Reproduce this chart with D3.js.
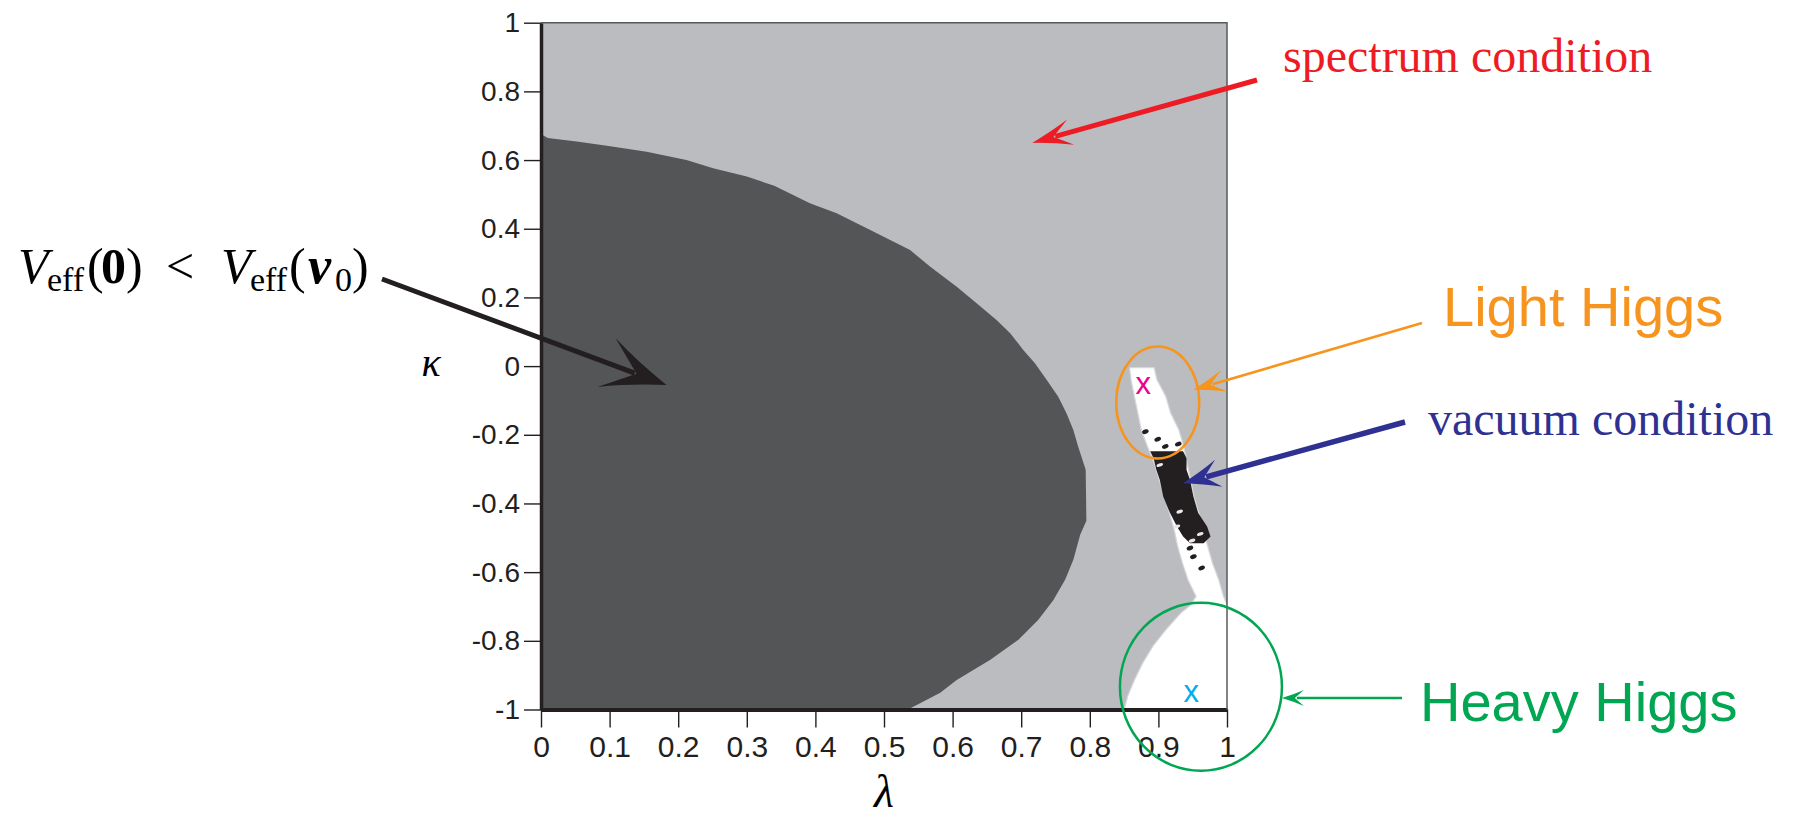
<!DOCTYPE html>
<html>
<head>
<meta charset="utf-8">
<script src="https://cdn.jsdelivr.net/npm/d3@7"></script>
<style>
  html, body { margin: 0; padding: 0; background: #ffffff; }
  svg { display: block; }
</style>
</head>
<body>
<svg id="chart" width="1798" height="822"></svg>
<script>
// ---- axis ticks ----
const lambdaTicks = [0, 0.1, 0.2, 0.3, 0.4, 0.5, 0.6, 0.7, 0.8, 0.9, 1];
const lambdaTickLabels = ["0", "0.1", "0.2", "0.3", "0.4", "0.5", "0.6", "0.7", "0.8", "0.9", "1"];
const kappaTicks = [1, 0.8, 0.6, 0.4, 0.2, 0, -0.2, -0.4, -0.6, -0.8, -1];
const kappaTickLabels = ["1", "0.8", "0.6", "0.4", "0.2", "0", "-0.2", "-0.4", "-0.6", "-0.8", "-1"];

// ---- region where V_eff(0) < V_eff(v0): right edge, [lambda, kappa], top to bottom ----
const darkBoundary = [
  [0.000, 0.675], [0.010, 0.664], [0.052, 0.654], [0.096, 0.642], [0.154, 0.624],
  [0.212, 0.600], [0.251, 0.576], [0.300, 0.552], [0.340, 0.525], [0.392, 0.474],
  [0.431, 0.445], [0.480, 0.396], [0.538, 0.338], [0.567, 0.290], [0.606, 0.231],
  [0.635, 0.183], [0.664, 0.134], [0.684, 0.096], [0.703, 0.047], [0.720, 0.008],
  [0.737, -0.040], [0.754, -0.089], [0.766, -0.137], [0.776, -0.186], [0.783, -0.234],
  [0.794, -0.302], [0.795, -0.450], [0.786, -0.491], [0.776, -0.564], [0.764, -0.622],
  [0.747, -0.681], [0.725, -0.739], [0.696, -0.797], [0.655, -0.855], [0.606, -0.914],
  [0.582, -0.951], [0.535, -1.000]
];

// ---- allowed region (both conditions satisfied): left and right edges, [lambda, kappa] ----
const allowedLeft = [
  [0.859, -0.006], [0.861, -0.040], [0.866, -0.089], [0.871, -0.137], [0.876, -0.186],
  [0.885, -0.234], [0.895, -0.283], [0.902, -0.331], [0.910, -0.380], [0.917, -0.428],
  [0.924, -0.477], [0.929, -0.525], [0.936, -0.574], [0.944, -0.622], [0.956, -0.671],
  [0.946, -0.700], [0.934, -0.719], [0.912, -0.768], [0.893, -0.816], [0.878, -0.865],
  [0.866, -0.914], [0.856, -0.962], [0.851, -1.000]
];
const allowedRight = [
  [0.893, -0.006], [0.897, -0.040], [0.910, -0.089], [0.917, -0.137], [0.929, -0.186],
  [0.936, -0.234], [0.941, -0.283], [0.946, -0.331], [0.951, -0.380], [0.958, -0.428],
  [0.964, -0.477], [0.971, -0.525], [0.978, -0.574], [0.987, -0.622], [0.994, -0.671],
  [1.000, -0.700], [1.000, -1.000]
];

// ---- vacuum condition violated: left and right edges, [lambda, kappa] ----
const vacuumLeft = [
  [0.888, -0.248], [0.893, -0.268], [0.897, -0.302], [0.902, -0.331], [0.907, -0.380],
  [0.917, -0.428], [0.927, -0.467], [0.936, -0.496], [0.946, -0.516]
];
const vacuumRight = [
  [0.936, -0.248], [0.941, -0.268], [0.941, -0.302], [0.946, -0.331], [0.951, -0.380],
  [0.958, -0.428], [0.971, -0.467], [0.976, -0.496], [0.966, -0.516]
];
// isolated failing points around the band, and passing points inside it
const vacuumSpecks = [
  [0.881, -0.191], [0.899, -0.213], [0.910, -0.234], [0.929, -0.227],
  [0.946, -0.530], [0.951, -0.555], [0.963, -0.588]
];
const allowedSpecks = [
  [0.902, -0.288], [0.931, -0.424], [0.927, -0.467], [0.961, -0.489], [0.949, -0.508]
];

// ---- benchmark points ----
const benchmarkNames = ["light", "heavy"];
const benchmarkLambda = [0.878, 0.948];
const benchmarkKappa = [-0.055, -0.952];
const benchmarkColors = ["#ec008c", "#00aeef"];

// ---- layout ----
const svg = d3.select("#chart");
const plot = { left: 541, right: 1227, top: 22.7, bottom: 709.5 };
const x = d3.scaleLinear().domain([0, 1]).range([plot.left, plot.right]);
const y = d3.scaleLinear().domain([-1, 1]).range([plot.bottom, plot.top]);

const colLight = "#bbbcc0", colDark = "#545557", colBlack = "#231f20";

svg.append("defs").append("clipPath").attr("id", "plotClip")
  .append("rect")
  .attr("x", plot.left).attr("y", plot.top)
  .attr("width", plot.right - plot.left).attr("height", plot.bottom - plot.top);

const area = svg.append("g").attr("clip-path", "url(#plotClip)");
const line = d3.line().x(d => x(d[0])).y(d => y(d[1]));

// spectrum condition fails everywhere else
area.append("rect")
  .attr("x", x(0)).attr("y", y(1))
  .attr("width", x(1) - x(0)).attr("height", y(-1) - y(1))
  .attr("fill", colLight);

// V_eff(0) < V_eff(v0)
area.append("path")
  .attr("d", line([...darkBoundary, [0, -1]]) + "Z")
  .attr("fill", colDark);

// allowed band, with its soft grey rim
const allowedPoly = [...allowedLeft, ...allowedRight.slice().reverse()];
area.append("path")
  .attr("d", line(allowedPoly) + "Z")
  .attr("fill", "#ffffff")
  .attr("stroke", "#d6d7d9")
  .attr("stroke-width", 2.5)
  .attr("stroke-linejoin", "round");
area.append("path")
  .attr("d", line(allowedPoly) + "Z")
  .attr("fill", "#ffffff");

// vacuum condition violated
area.append("path")
  .attr("d", line([...vacuumLeft, ...vacuumRight.slice().reverse()]) + "Z")
  .attr("fill", colBlack);
area.selectAll("ellipse.vs").data(vacuumSpecks).join("ellipse")
  .attr("class", "vs")
  .attr("cx", d => x(d[0])).attr("cy", d => y(d[1]))
  .attr("rx", 3.4).attr("ry", 2.2)
  .attr("transform", d => `rotate(-20,${x(d[0])},${y(d[1])})`)
  .attr("fill", colBlack);
area.selectAll("ellipse.as").data(allowedSpecks).join("ellipse")
  .attr("class", "as")
  .attr("cx", d => x(d[0])).attr("cy", d => y(d[1]))
  .attr("rx", 3.4).attr("ry", 1.7)
  .attr("transform", d => `rotate(-20,${x(d[0])},${y(d[1])})`)
  .attr("fill", "#e8e8e8");

// benchmark markers
svg.selectAll("text.bench").data(benchmarkNames).join("text")
  .attr("class", "bench")
  .attr("x", (d, i) => x(benchmarkLambda[i]))
  .attr("y", (d, i) => y(benchmarkKappa[i]) + 9)
  .attr("text-anchor", "middle")
  .attr("font-family", "Liberation Sans, Arial, sans-serif")
  .attr("font-size", 31)
  .attr("fill", (d, i) => benchmarkColors[i])
  .text("x");

// ---- axes ----
const yAxis = d3.axisLeft(y)
  .tickValues(kappaTicks)
  .tickFormat((d, i) => kappaTickLabels[i])
  .tickSize(17).tickSizeOuter(0).tickPadding(4);
const gy = svg.append("g").attr("transform", `translate(${plot.left},0)`).call(yAxis);
gy.select(".domain").attr("stroke", colBlack).attr("stroke-width", 3.5);
gy.selectAll(".tick line").attr("stroke", colBlack).attr("stroke-width", 1.4);
gy.selectAll(".tick text")
  .attr("font-family", "Liberation Sans, Arial, sans-serif")
  .attr("font-size", 28).attr("fill", "#231f20");

const xAxis = d3.axisBottom(x)
  .tickValues(lambdaTicks)
  .tickFormat((d, i) => lambdaTickLabels[i])
  .tickSize(18).tickSizeOuter(0).tickPadding(8);
const gx = svg.append("g").attr("transform", `translate(0,${plot.bottom})`).call(xAxis);
gx.select(".domain").attr("stroke", colBlack).attr("stroke-width", 4);
gx.selectAll(".tick line").attr("stroke", colBlack).attr("stroke-width", 1.4);
gx.selectAll(".tick text")
  .attr("font-family", "Liberation Sans, Arial, sans-serif")
  .attr("font-size", 30).attr("fill", "#231f20");

// thin frame on top and right
svg.append("path")
  .attr("d", `M${x(0)},${y(1)}H${x(1)}V${y(-1)}`)
  .attr("fill", "none").attr("stroke", "#58595b").attr("stroke-width", 1.5);

// axis titles
svg.append("text")
  .attr("x", 431).attr("y", 376)
  .attr("text-anchor", "middle")
  .attr("font-family", "Liberation Serif, Times New Roman, serif")
  .attr("font-style", "italic").attr("font-size", 40)
  .text("κ");
svg.append("text")
  .attr("x", 884).attr("y", 807)
  .attr("text-anchor", "middle")
  .attr("font-family", "Liberation Serif, Times New Roman, serif")
  .attr("font-style", "italic").attr("font-size", 46)
  .text("λ");

// ---- annotations ----
const ann = svg.append("g");

function arrow(tail, tip, color, width, L, W, N) {
  const dx = tip[0] - tail[0], dy = tip[1] - tail[1];
  const ang = Math.atan2(dy, dx) * 180 / Math.PI;
  const len = Math.hypot(dx, dy);
  const g = ann.append("g").attr("transform", `translate(${tip[0]},${tip[1]}) rotate(${ang})`);
  g.append("line")
    .attr("x1", -len).attr("y1", 0).attr("x2", -N - 2).attr("y2", 0)
    .attr("stroke", color).attr("stroke-width", width);
  g.append("path")
    .attr("d", `M0,0 Q${-L * 0.55},${-W * 0.45} ${-L},${-W} Q${-N - (L - N) * 0.3},${-W * 0.3} ${-N},0 Q${-N - (L - N) * 0.3},${W * 0.3} ${-L},${W} Q${-L * 0.55},${W * 0.45} 0,0Z`)
    .attr("fill", color);
}

// V_eff label
const serif = "Liberation Serif, Times New Roman, serif";
const veff = ann.append("text").attr("font-family", serif).attr("fill", "#000");
const pieces = [
  { t: "V", x: 18, dy: 0, size: 50, style: "italic" },
  { t: "eff", x: 47, dy: 8, size: 34 },
  { t: "(", x: 87, dy: 0, size: 50 },
  { t: "0", x: 101, dy: 0, size: 50, weight: "bold" },
  { t: ")", x: 126, dy: 0, size: 50 },
  { t: "<", x: 166, dy: 0, size: 50 },
  { t: "V", x: 221, dy: 0, size: 50, style: "italic" },
  { t: "eff", x: 250, dy: 8, size: 34 },
  { t: "(", x: 289, dy: 0, size: 50 },
  { t: "v", x: 308, dy: 0, size: 52, style: "italic", weight: "bold" },
  { t: "0", x: 335, dy: 8, size: 34 },
  { t: ")", x: 352, dy: 0, size: 50 }
];
pieces.forEach(p => {
  veff.append("tspan")
    .attr("x", p.x).attr("y", 283 + p.dy)
    .attr("font-size", p.size)
    .attr("font-style", p.style || "normal")
    .attr("font-weight", p.weight || "normal")
    .text(p.t);
});
arrow([382, 279], [x(0.183), y(-0.055)], colBlack, 5, 64, 26, 32);

// spectrum condition
ann.append("text")
  .attr("x", 1283).attr("y", 72)
  .attr("font-family", serif).attr("font-size", 48).attr("fill", "#ed1c24")
  .text("spectrum condition");
arrow([1257, 80], [x(0.716), y(0.650)], "#ed1c24", 5, 40, 13, 22);

// Light Higgs
ann.append("ellipse")
  .attr("cx", x(0.899)).attr("cy", y(-0.106))
  .attr("rx", 41.5).attr("ry", 56)
  .attr("fill", "none").attr("stroke", "#f7941d").attr("stroke-width", 2.5);
ann.append("text")
  .attr("x", 1443).attr("y", 326)
  .attr("font-family", "Liberation Sans, Arial, sans-serif").attr("font-size", 56)
  .attr("fill", "#f7941d")
  .text("Light Higgs");
arrow([1422, 323], [x(0.951), y(-0.069)], "#f7941d", 2.5, 32, 11, 18);

// vacuum condition
ann.append("text")
  .attr("x", 1428).attr("y", 435)
  .attr("font-family", serif).attr("font-size", 48).attr("fill", "#2e3192")
  .text("vacuum condition");
arrow([1405, 422], [x(0.936), y(-0.341)], "#2e3192", 5.5, 37, 14, 22);

// Heavy Higgs
ann.append("ellipse")
  .attr("cx", x(0.962)).attr("cy", y(-0.934))
  .attr("rx", 81).attr("ry", 84)
  .attr("fill", "none").attr("stroke", "#00a651").attr("stroke-width", 2.5);
ann.append("text")
  .attr("x", 1420).attr("y", 721)
  .attr("font-family", "Liberation Sans, Arial, sans-serif").attr("font-size", 56)
  .attr("fill", "#00a651")
  .text("Heavy Higgs");
arrow([1402, 698], [x(1.08), y(-0.9665)], "#00a651", 2.5, 22, 8, 13);
</script>
</body>
</html>
